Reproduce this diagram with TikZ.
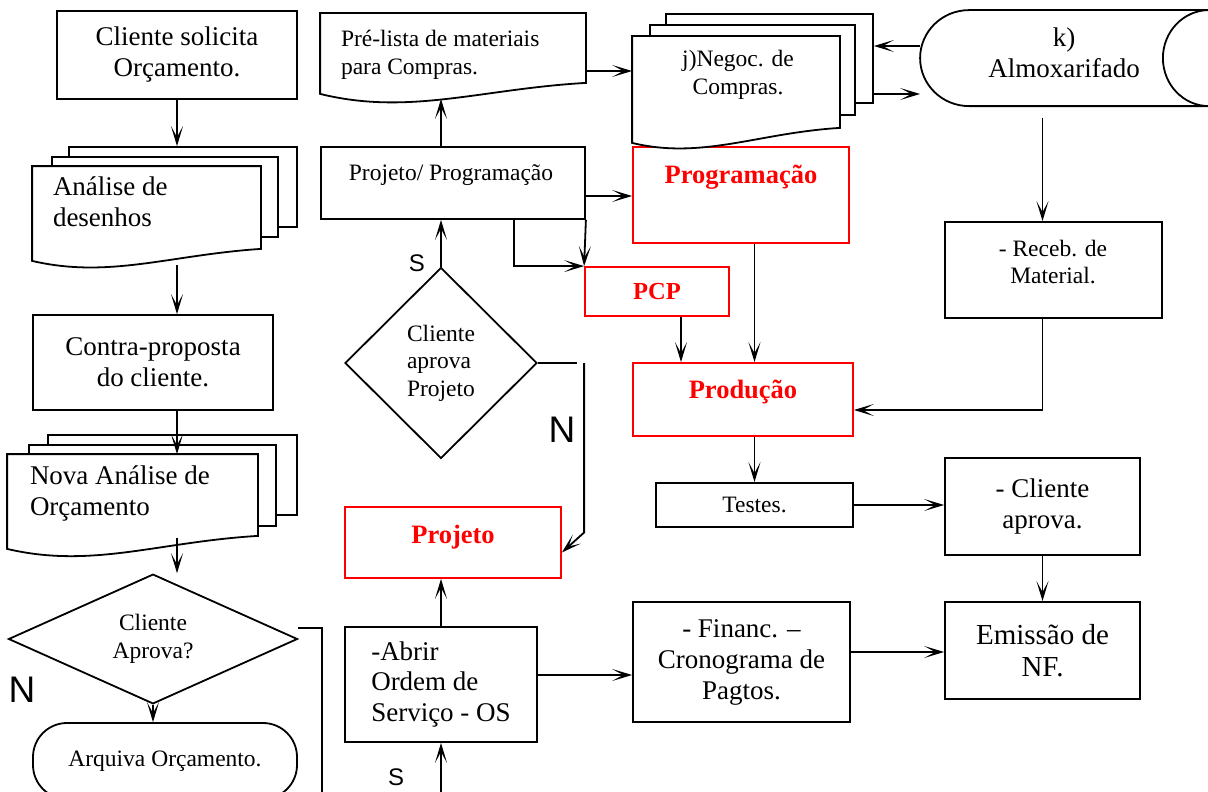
\documentclass[tikz,border=0pt]{standalone}
\usepackage{fontspec}
\setmainfont{Liberation Serif}
\newfontfamily\yesnofont{Liberation Sans}
\usetikzlibrary{positioning, calc, arrows.meta, shapes.geometric}
\newcommand{\fbig}{\fontsize{27}{31}\selectfont}
\newcommand{\fsml}{\fontsize{23.5}{27.5}\selectfont}
\newcommand{\fnf}{\fontsize{29}{32}\selectfont}
\newcommand{\fred}{\fontsize{26.5}{31}\selectfont\bfseries}

\begin{document}
\begin{tikzpicture}[x=1pt, y=-1pt, line width=1.8pt,
    >={Stealth[length=20pt, width=12pt, inset=11pt]},
    box/.style={draw, rectangle, inner sep=0pt, align=center, fill=white},
    redbox/.style={box, draw=red},
    redtxt/.style={inner sep=0pt, text=red, font=\fred},
    sheet/.style={draw, fill=white, rectangle, inner sep=0pt},
    docf/.style={inner ysep=0pt, align=flush left},
    txt/.style={inner sep=0pt, align=left},
    decision/.style={draw, diamond, inner sep=0pt, font=\fsml, fill=white},
    nolbl/.style={inner sep=0pt, font={\yesnofont\fontsize{37}{40}\selectfont}},
    simlbl/.style={inner sep=0pt, font={\yesnofont\fontsize{24}{28}\selectfont}}]
  \useasboundingbox (0,0) rectangle (1208,792);
  \clip (0,0) rectangle (1208,792);

  % left column
  \node[box, font=\fbig, minimum width=240pt, minimum height=88pt] (sol) at (177,55) {Cliente solicita\\Or\c{c}amento.};

  \node[sheet, minimum width=228pt, minimum height=80pt] (analb) at (183,187) {};
  \node[sheet, minimum width=226pt, minimum height=80pt] (analm) at (165,197) {};
  \node[docf, text width=187pt, inner xsep=20pt, minimum height=69pt] (analf) at (146.5,201.5) {};
  \filldraw[fill=white] (analf.north west) -- (analf.north east) -- ([yshift=-12pt]analf.south east)
      .. controls +(-91,6) and +(77,18) .. ([yshift=-24pt]analf.south west) -- cycle;
  \node[docf, font=\fbig, text width=187pt, inner xsep=20pt, minimum height=69pt] (analt) at (146.5,201.5) {Análise de\\desenhos};

  \node[box, font=\fbig, minimum width=240pt, minimum height=95pt] (contra) at (153,362.5) {Contra-proposta\\do cliente.};

  \node[sheet, minimum width=249pt, minimum height=80pt] (novab) at (172.5,475) {};
  \node[sheet, minimum width=247pt, minimum height=81pt] (novam) at (152.5,485.5) {};
  \node[docf, text width=205pt, inner xsep=22pt, minimum height=76pt] (novaf) at (132.5,493) {};
  \filldraw[fill=white] (novaf.north west) -- (novaf.north east) -- ([yshift=-4pt]novaf.south east)
      .. controls +(-100,6) and +(85,20) .. ([yshift=-17pt]novaf.south west) -- cycle;
  \node[docf, font=\fbig, text width=205pt, inner xsep=22pt, minimum height=76pt] (novat) at (132.5,493) {Nova Análise de\\Or\c{c}amento};

  \node[decision, align=center, minimum width=289pt, minimum height=119pt] (cap) at (153,639) {Cliente\\Aprova?};
  \node[nolbl] (capn) at (22,690) {N};
  \node[box, rounded corners=34pt, font=\fsml, minimum width=264pt, minimum height=76pt] (arq) at (165,761) {Arquiva Or\c{c}amento.};
  \coordinate (capout) at (322,800);

  % middle column
  \node[docf, text width=224pt, inner xsep=20pt, minimum height=82pt] (prelf) at (453,55) {};
  \filldraw[fill=white] (prelf.north west) -- (prelf.north east) -- ([yshift=14pt]prelf.south east)
      .. controls +(-105,6) and +(89,22) .. ([yshift=3pt]prelf.south west) -- cycle;
  \node[docf, font=\fsml, text width=224pt, inner xsep=20pt, minimum height=82pt] (prelt) at (453,55) {Pré-lista de materiais\\para Compras.};

  \node[box, minimum width=264pt, minimum height=72pt] (pp) at (453,183) {};
  \node[txt, font=\fsml] (ppt) at (451,175) {Projeto/ Programa\c{c}ão};

  \node[decision, align=left, minimum width=192pt, minimum height=191pt] (apv) at (441,363) {Cliente\\aprova\\Projeto};
  \node[simlbl] (apvs) at (417,263) {S};
  \node[nolbl] (apvn) at (562,430) {N};
  \coordinate (apvout) at (577,363);

  \node[redbox, minimum width=216pt, minimum height=71pt] (proj) at (453,542.5) {};
  \node[redtxt] (projt) at (453,537) {Projeto};

  \node[box, font=\fbig, align=left, minimum width=192pt, minimum height=115pt] (os) at (441,684.5) {-Abrir\\Ordem de\\Servi\c{c}o - OS};
  \node[simlbl] (oss) at (396,777) {S};
  \coordinate (osin) at (441,800);

  % right part
  \node[redbox, minimum width=216pt, minimum height=96pt] (prog) at (741,195) {};
  \node[redtxt] (progt) at (741,177) {Programa\c{c}ão};

  \node[sheet, minimum width=207pt, minimum height=89pt] (negb) at (769.5,58.5) {};
  \node[sheet, minimum width=205pt, minimum height=90pt] (negm) at (752.5,70) {};
  \node[docf, text width=186pt, inner xsep=10pt, minimum height=76pt] (negf) at (736,75) {};
  \filldraw[fill=white] (negf.north west) -- (negf.north east) -- ([yshift=-14pt]negf.south east)
      .. controls +(-82,5) and +(70,17) .. ([yshift=-29pt]negf.south west) -- cycle;
  \node[txt, align=center, font=\fsml] (negt) at (738,75) {j)Negoc. de\\Compras.};

  \node[inner sep=0pt, minimum width=287pt, minimum height=96pt] (almox) at (1064.5,59) {};
  \draw ([xshift=49pt]almox.north west) arc[start angle=90, end angle=270, x radius=49pt, y radius=48pt] -- ++(260,0);
  \draw ([xshift=49pt]almox.north west) -- ++(260,0);
  \draw (almox.north east) arc[start angle=90, end angle=270, x radius=46pt, y radius=48pt];
  \node[txt, align=center, font=\fbig] (almoxt) at (1064,53) {k)\\Almoxarifado};

  \node[box, minimum width=217pt, minimum height=96pt] (receb) at (1053.5,270) {};
  \node[txt, align=center, font=\fsml] (recebt) at (1053,262) {- Receb. de\\Material.};

  \node[redbox, text=red, font={\fontsize{24.5}{28}\selectfont\bfseries}, minimum width=144pt, minimum height=49pt] (pcp) at (657,291.5) {PCP};
  \node[redbox, minimum width=220pt, minimum height=73pt] (prod) at (743,399.5) {};
  \node[redtxt] (prodt) at (743,392) {Produ\c{c}ão};

  \node[box, font=\fsml, minimum width=197pt, minimum height=44pt] (testes) at (754.5,505) {Testes.};
  \node[box, font=\fbig, minimum width=195pt, minimum height=97pt] (capr) at (1042.5,506.5) {- Cliente\\aprova.};
  \node[box, font=\fnf, minimum width=195pt, minimum height=97pt] (nf) at (1042.5,650.5) {Emissão de\\NF.};
  \node[box, font=\fbig, minimum width=217pt, minimum height=120pt] (fin) at (741.5,662) {- Financ. –\\Cronograma de\\Pagtos.};

  % connectors, left
  \draw[->] (sol.south) -- (analb.north -| sol.south);
  \draw[->] ([yshift=-28pt]analf.south -| sol.south) -- (contra.north -| sol.south);
  \draw[->] (contra.south -| sol.south) -- (novaf.north -| sol.south);
  \draw[->] ([yshift=-6pt]novaf.south -| sol.south) -- (cap.north -| sol.south);
  \draw[->] (cap.south) -- (arq.north -| cap.south);
  \draw ([yshift=11pt]cap.east) -| (capout);

  % connectors, middle
  \draw[->] (pp.north -| apv.north) -- ([yshift=-2pt]prelf.south -| apv.north);
  \draw[->] ([yshift=-16pt]prelf.east) -- ([yshift=-16pt]negf.west |- prelf.east);
  \draw[->] ([yshift=-13pt]pp.east) -- ([yshift=-13pt]prog.west |- pp.east);
  \draw[->] (pp.south east) -- (pcp.north west);
  \draw[->] ([xshift=-72pt]pp.south east) |- (pcp.north west);
  \draw[->] (apv.north) -- (apv.north |- pp.south);
  \draw (apv.east) -- (apvout);
  \draw[->] (pcp.west |- apv.east) -- ([yshift=10pt]pcp.west |- proj.east) -- ([yshift=-10pt]proj.east);
  \draw[->] (os.north) -- (proj.south -| os.north);
  \draw[->] ([yshift=9.5pt]os.east) -- ([yshift=9.5pt]fin.west |- os.east);
  \draw[->] (osin) -- (os.south);

  % connectors, right
  \draw[->] ([yshift=12.5pt]negb.east -| almox.west) -- ([yshift=12.5pt]negb.east);
  \draw[->] ([yshift=-35.5pt]negb.east) -- ([yshift=-35.5pt]almox.west |- negb.east);
  \draw[->] ([yshift=-10pt]almox.south -| capr.north) -- (receb.north -| capr.north);
  \draw[->] ([xshift=24pt]pcp.south) -- ([xshift=24pt]pcp.south |- prod.north);
  \draw[->] (prog.south -| testes.north) -- (prod.north -| testes.north);
  \draw[->] (receb.south -| capr.north) |- ([yshift=-10.5pt]prod.east);
  \draw[->] (prod.south -| testes.north) -- (testes.north);
  \draw[->] (testes.east) -- (testes.east -| capr.west);
  \draw[->] (capr.south) -- (nf.north);
  \draw[->] ([yshift=10pt]fin.east) -- ([yshift=10pt]nf.west |- fin.east);
\end{tikzpicture}
\end{document}
